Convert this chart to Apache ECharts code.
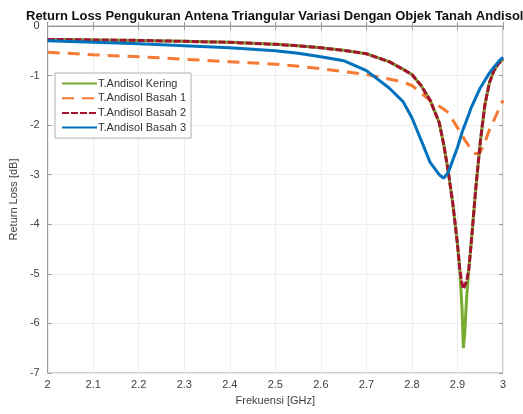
<!DOCTYPE html>
<html>
<head>
<meta charset="utf-8">
<script src="https://cdn.jsdelivr.net/npm/echarts@6/dist/echarts.min.js"></script>
<style>
  html, body { margin: 0; padding: 0; background: #fff; }
  #chart { width: 523px; height: 414px; }
</style>
</head>
<body>
<div id="chart"></div>
<script>
// frequency points (GHz)
var freq = [2.0, 2.1, 2.2, 2.3, 2.4, 2.5, 2.55, 2.6, 2.65, 2.7, 2.75, 2.78, 2.8, 2.82, 2.84, 2.86, 2.87,
  2.88, 2.89, 2.9, 2.905, 2.91, 2.913, 2.916, 2.92, 2.925, 2.93, 2.94, 2.95, 2.96, 2.97, 2.98, 2.99, 3.0];

var kering = [-0.27, -0.28, -0.29, -0.31, -0.33, -0.37, -0.4, -0.44, -0.49, -0.56, -0.72, -0.87, -0.98, -1.2, -1.5, -1.95, -2.4,
  -2.95, -3.6, -4.4, -4.9, -5.7, -6.5, -6.2, -5.5, -4.9, -4.4, -3.3, -2.35, -1.6, -1.15, -0.9, -0.76, -0.67];
var basah1 = [-0.53, -0.58, -0.62, -0.67, -0.72, -0.77, -0.81, -0.86, -0.92, -0.98, -1.07, -1.13, -1.2, -1.35, -1.5, -1.62, -1.68,
  -1.75, -1.9, -2.05, -2.12, -2.2, -2.25, -2.3, -2.35, -2.42, -2.5, -2.58, -2.55, -2.35, -2.1, -1.9, -1.7, -1.5];
var basah2 = [-0.27, -0.28, -0.29, -0.31, -0.33, -0.37, -0.4, -0.44, -0.49, -0.56, -0.72, -0.87, -0.98, -1.2, -1.5, -1.95, -2.4,
  -2.95, -3.6, -4.4, -4.9, -5.2, -5.3, -5.3, -5.15, -4.9, -4.4, -3.3, -2.35, -1.6, -1.15, -0.9, -0.76, -0.67];
var basah3 = [-0.3, -0.33, -0.36, -0.4, -0.44, -0.5, -0.55, -0.62, -0.7, -0.9, -1.25, -1.52, -1.85, -2.3, -2.75, -3.0, -3.07,
  -2.95, -2.7, -2.45, -2.3, -2.15, -2.07, -2.0, -1.9, -1.78, -1.65, -1.45, -1.25, -1.1, -0.95, -0.83, -0.72, -0.63];

function pairs(vals) {
  return freq.map(function (f, i) { return [f, vals[i]]; });
}

var chart = echarts.init(document.getElementById("chart"));
var fontFam = "Liberation Sans, Arial, sans-serif";
var labelColor = "#404040";
var boxColor = "#9a9a9a";

chart.setOption({
  animation: false,
  textStyle: { fontFamily: fontFam },
  title: {
    text: "Return Loss Pengukuran Antena Triangular Variasi Dengan Objek Tanah Andisol",
    left: 21,
    top: 5,
    textStyle: { fontSize: 13, fontWeight: "bold", color: "#111", fontFamily: fontFam }
  },
  grid: {
    left: 44,
    right: 20,
    top: 26,
    bottom: 41,
    show: true,
    borderColor: boxColor,
    borderWidth: 1,
    backgroundColor: "#fff"
  },
  legend: {
    orient: "vertical",
    left: 55,
    top: 73,
    padding: [5, 5, 5, 6],
    itemWidth: 35,
    itemHeight: 10,
    itemGap: 3.7,
    borderColor: "#b0b0b0",
    borderWidth: 1,
    backgroundColor: "#fff",
    itemStyle: { opacity: 0 },
    textStyle: { fontSize: 11, color: "#333", fontFamily: fontFam, padding: [0, 0, 0, -4] },
    data: ["T.Andisol Kering", "T.Andisol Basah 1", "T.Andisol Basah 2", "T.Andisol Basah 3"]
  },
  xAxis: [{
    type: "value",
    min: 2,
    max: 3,
    interval: 0.1,
    name: "Frekuensi [GHz]",
    nameLocation: "middle",
    nameGap: 22,
    nameTextStyle: { fontSize: 11, color: labelColor },
    axisLine: { show: true, lineStyle: { color: boxColor } },
    axisTick: { show: true, inside: true, length: 4, lineStyle: { color: boxColor } },
    axisLabel: {
      fontSize: 11, color: labelColor, margin: 6,
      formatter: function (v) { return String(+v.toFixed(1)); }
    },
    splitLine: { show: true, lineStyle: { color: "#eeeeee" } }
  }, {
    type: "value",
    position: "top",
    min: 2,
    max: 3,
    interval: 0.1,
    axisLine: { show: false },
    axisTick: { show: true, inside: true, length: 4, lineStyle: { color: boxColor } },
    axisLabel: { show: false },
    splitLine: { show: false }
  }],
  yAxis: [{
    type: "value",
    min: -7,
    max: 0,
    interval: 1,
    name: "Return Loss [dB]",
    nameLocation: "middle",
    nameGap: 23,
    nameTextStyle: { fontSize: 11, color: labelColor },
    axisLine: { show: true, lineStyle: { color: boxColor } },
    axisTick: { show: true, inside: true, length: 4, lineStyle: { color: boxColor } },
    axisLabel: { fontSize: 11, color: labelColor, margin: 8 },
    splitLine: { show: true, lineStyle: { color: "#eeeeee" } }
  }, {
    type: "value",
    position: "right",
    min: -7,
    max: 0,
    interval: 1,
    axisLine: { show: false },
    axisTick: { show: true, inside: true, length: 4, lineStyle: { color: boxColor } },
    axisLabel: { show: false },
    splitLine: { show: false }
  }],
  series: [
    {
      name: "T.Andisol Kering",
      type: "line",
      symbol: "none",
      data: pairs(kering),
      itemStyle: { color: "#77AC30" },
      lineStyle: { color: "#77AC30", width: 3 }
    },
    {
      name: "T.Andisol Basah 1",
      type: "line",
      symbol: "none",
      data: pairs(basah1),
      itemStyle: { color: "#F57A33" },
      lineStyle: { color: "#F57A33", width: 3, type: [12, 8] }
    },
    {
      name: "T.Andisol Basah 2",
      type: "line",
      symbol: "none",
      data: pairs(basah2),
      itemStyle: { color: "#A2142F" },
      lineStyle: { color: "#A2142F", width: 3, type: [7, 2] }
    },
    {
      name: "T.Andisol Basah 3",
      type: "line",
      symbol: "none",
      data: pairs(basah3),
      itemStyle: { color: "#0072BD" },
      lineStyle: { color: "#0072BD", width: 3 }
    }
  ]
});
</script>
</body>
</html>
